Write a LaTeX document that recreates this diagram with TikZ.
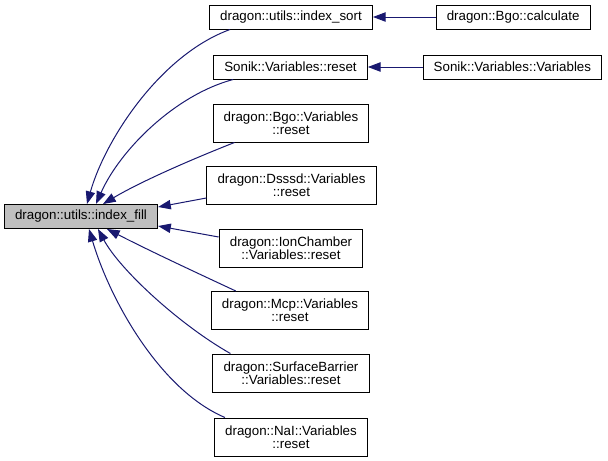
\documentclass[tikz,border=0pt]{standalone}
\usepackage{fontspec}
\setmainfont{Liberation Sans}
\usetikzlibrary{arrows.meta,positioning,calc}
\definecolor{edgeblue}{RGB}{25,25,112}
\definecolor{focusgray}{RGB}{191,191,191}

\begin{document}
\begin{tikzpicture}[x=0.75pt,y=-0.75pt,>={Triangle[length=9.5pt,width=7pt]},
  fn/.style={draw,line width=0.75pt,fill=white,inner xsep=8pt,inner ysep=1pt,minimum height=18pt,font=\fontsize{10pt}{9.5pt}\selectfont},
  fntwo/.style={fn,align=center,minimum height=28.5pt},
  call/.style={<-,edgeblue,line width=0.75pt}]
\useasboundingbox (0,0) rectangle (608,461);
\node[fn,fill=focusgray] (idxfill) at (81,216.5) {dragon::utils::index\_fill};
\node[fn] (sort) at (291,17) {dragon::utils::index\_sort};
\node[fn,right=47pt of sort] (calc) {dragon::Bgo::calculate};
\node[fn] (sreset) at (290.5,67) {Sonik::Variables::reset};
\node[fn,right=41pt of sreset] (svars) {Sonik::Variables::Variables};
\node[fntwo] (bgo) at (291,123) {dragon::Bgo::Variables\\::reset};
\node[fntwo] (dsssd) at (291.5,185.5) {dragon::Dsssd::Variables\\::reset};
\node[fntwo] (ion) at (291,248) {dragon::IonChamber\\::Variables::reset};
\node[fntwo] (mcp) at (290,310.5) {dragon::Mcp::Variables\\::reset};
\node[fntwo] (sb) at (291,373) {dragon::SurfaceBarrier\\::Variables::reset};
\node[fntwo] (nai) at (291,437) {dragon::NaI::Variables\\::reset};
% callers of index_sort and reset
\draw[call] (sort) -- (calc);
\draw[call] (sreset) -- (svars);
% callers of index_fill
\draw[call] ($(idxfill.north)+(6,0)$) .. controls (105,140) and (160,55) .. ($(sort.south west)+(21,0)$);
\draw[call] ($(idxfill.north)+(15,0)$) .. controls (120,150) and (175,95) .. ($(sreset.south west)+(20,0)$);
\draw[call] ($(idxfill.north)+(22,0)$) .. controls (140,182) and (190,160) .. ($(bgo.south west)+(22,0)$);
\draw[call] ($(idxfill.east)+(0,-9.5)$) -- ($(dsssd.west)+(0,12.5)$);
\draw[call] ($(idxfill.east)+(0,9.5)$) -- ($(ion.west)+(0,-11)$);
\draw[call] ($(idxfill.south)+(26,0)$) .. controls (150,251) and (195,272) .. ($(mcp.north west)+(25,0)$);
\draw[call] ($(idxfill.south)+(17,0)$) .. controls (120,270) and (180,325) .. ($(sb.north west)+(18,0)$);
\draw[call] ($(idxfill.south)+(8,0)$) .. controls (110,300) and (160,390) .. ($(nai.north west)+(11,0)$);
\end{tikzpicture}
\end{document}
